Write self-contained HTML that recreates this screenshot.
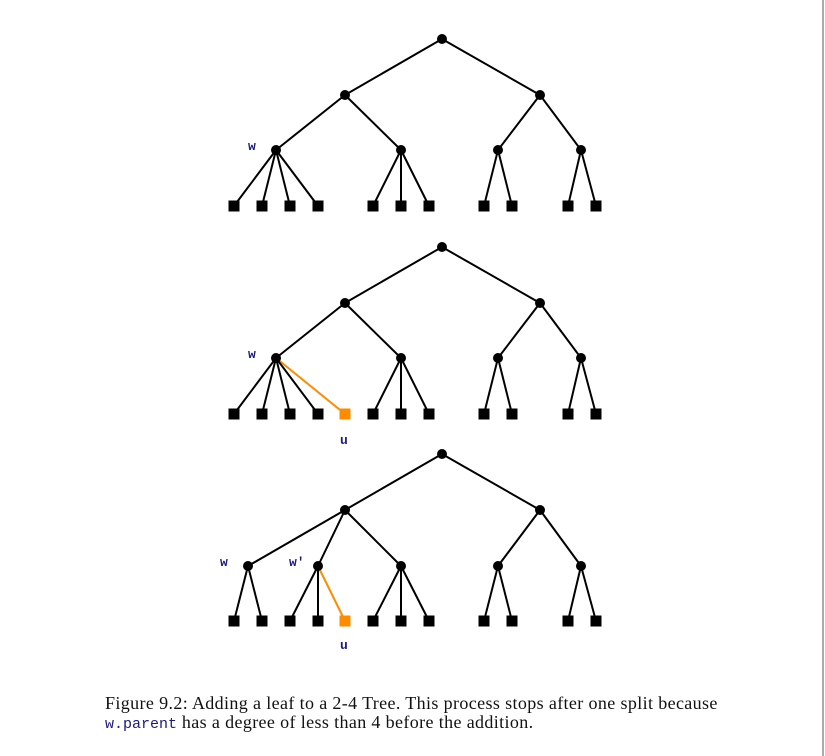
<!DOCTYPE html>
<html><head><meta charset="utf-8"><style>
html,body{margin:0;padding:0;background:#fff;}
body{width:825px;height:756px;position:relative;overflow:hidden;}
.vl{position:absolute;left:822px;top:0;width:2px;height:756px;background:#aaa;}
.cap{position:absolute;left:105px;top:694px;font-family:"Liberation Serif",serif;font-size:18px;letter-spacing:0.37px;line-height:19px;color:#111;white-space:nowrap;}
.cap code{font-family:"Liberation Mono",monospace;font-size:15px;letter-spacing:0;color:#1a1a80;}
text{font-family:"Liberation Mono",monospace;font-size:13px;fill:#1a1a80;font-weight:bold;}
</style></head><body>
<div class="vl"></div>
<svg id="s" width="825" height="756" style="position:absolute;left:0;top:0">
<text x="248" y="150">w</text>
<text x="248" y="358">w</text>
<text x="340" y="444">u</text>
<text x="220" y="566">w</text>
<text x="289" y="566">w′</text>
<text x="340" y="649">u</text>
</svg>
<div class="cap">Figure 9.2: Adding a leaf to a 2-4 Tree. This process stops after one split because<br><code>w.parent</code> has a degree of less than 4 before the addition.</div>
<script>
var s=document.getElementById('s'),NS='http://www.w3.org/2000/svg';
function el(t,a){var e=document.createElementNS(NS,t);for(var k in a)e.setAttribute(k,a[k]);s.insertBefore(e,s.firstChild);return e;}
function line(x1,y1,x2,y2,c){el('line',{x1:x1,y1:y1,x2:x2,y2:y2,stroke:c||'#000','stroke-width':2});}
var circles=[],squares=[];
function tree(dy,mids){
  var r=[442,39+dy],a=[345,95+dy],b=[540,95+dy];
  line(r[0],r[1],a[0],a[1]);line(r[0],r[1],b[0],b[1]);
  circles.push(r,a,b);
  var ly=206+dy;
  mids.forEach(function(m){
    var p=m.p==0?a:b;var n=[m.x,150+dy+(m.dy||0)];
    line(p[0],p[1],n[0],n[1]);circles.push(n);
    m.l.forEach(function(x){line(n[0],n[1],x,ly);squares.push([x,ly,'#000']);});
    if(m.o){line(n[0],n[1],m.o,ly,'#ff8c00');squares.push([m.o,ly,'#ff8c00']);}
  });
}
tree(0,[{p:0,x:276,l:[234,262,290,318]},{p:0,x:401,l:[373,401,429]},{p:1,x:498,l:[484,512]},{p:1,x:581,l:[568,596]}]);
tree(208,[{p:0,x:276,l:[234,262,290,318],o:345},{p:0,x:401,l:[373,401,429]},{p:1,x:498,l:[484,512]},{p:1,x:581,l:[568,596]}]);
tree(415,[{p:0,x:248,dy:1,l:[234,262]},{p:0,x:318,dy:1,l:[290,318],o:345},{p:0,x:401,dy:1,l:[373,401,429]},{p:1,x:498,dy:1,l:[484,512]},{p:1,x:581,dy:1,l:[568,596]}]);
var g=document.createElementNS(NS,'g');s.appendChild(g);
circles.forEach(function(c){var e=document.createElementNS(NS,'circle');e.setAttribute('cx',c[0]);e.setAttribute('cy',c[1]);e.setAttribute('r',5);e.setAttribute('fill','#000');g.appendChild(e);});
squares.forEach(function(q){var e=document.createElementNS(NS,'rect');e.setAttribute('x',q[0]-5.5);e.setAttribute('y',q[1]-5.5);e.setAttribute('width',11);e.setAttribute('height',11);e.setAttribute('fill',q[2]);g.appendChild(e);});
</script>
</body></html>
